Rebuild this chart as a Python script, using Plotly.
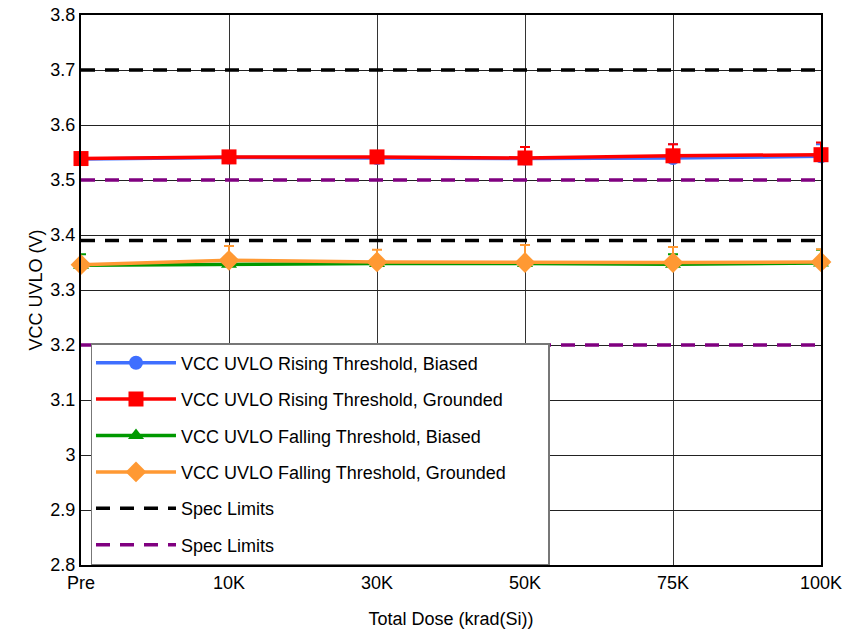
import plotly.graph_objects as go

categories = ["Pre", "10K", "30K", "50K", "75K", "100K"]

rising_biased = [3.538, 3.541, 3.540, 3.539, 3.540, 3.543]
rising_biased_err = [0.004, 0.004, 0.004, 0.010, 0.025, 0.022]
rising_grounded = [3.539, 3.542, 3.542, 3.540, 3.544, 3.546]
rising_grounded_err = [0.004, 0.004, 0.004, 0.020, 0.021, 0.022]
falling_biased = [3.345, 3.347, 3.348, 3.348, 3.347, 3.349]
falling_biased_err = [0.020, 0.004, 0.004, 0.004, 0.018, 0.024]
falling_grounded = [3.346, 3.354, 3.351, 3.350, 3.350, 3.351]
falling_grounded_err = [0.004, 0.026, 0.022, 0.032, 0.028, 0.023]

spec_black = [3.7, 3.39]
spec_purple = [3.5, 3.2]

font = "Liberation Sans, Arial, sans-serif"
fig = go.Figure()

def spec_trace(levels, color, group):
    xs, ys = [], []
    for lv in levels:
        xs += [categories[0], categories[-1], None]
        ys += [lv, lv, None]
    return go.Scatter(x=xs, y=ys, mode="lines", name="Spec Limits",
                      line=dict(color=color, width=3.5, dash="14px,10px"),
                      connectgaps=False, legendgroup=group)

fig.add_trace(spec_trace(spec_black, "black", "g5"))
fig.add_trace(spec_trace(spec_purple, "#800080", "g6"))

series = [
    ("VCC UVLO Rising Threshold, Biased", rising_biased, rising_biased_err, "#3f6fff", "circle", 14),
    ("VCC UVLO Rising Threshold, Grounded", rising_grounded, rising_grounded_err, "#ff0000", "square", 15),
    ("VCC UVLO Falling Threshold, Biased", falling_biased, falling_biased_err, "#009900", "triangle-up", 14),
    ("VCC UVLO Falling Threshold, Grounded", falling_grounded, falling_grounded_err, "#ff9933", "diamond", 16),
]
for k, (name, vals, err, color, sym, msize) in enumerate(series):
    fig.add_trace(go.Scatter(
        x=categories, y=vals, mode="lines+markers", name=name,
        line=dict(color=color, width=3.5),
        marker=dict(color=color, symbol=sym, size=msize),
        error_y=dict(type="data", array=err, arrayminus=[0] * len(err), symmetric=False,
                     visible=True, color=color, thickness=2, width=5),
        cliponaxis=False, legendgroup="g%d" % (k + 1),
    ))

for i, tr in enumerate(fig.data):
    tr.legendrank = 100 + i if tr.name == "Spec Limits" else i

fig.update_layout(
    width=843, height=632,
    margin=dict(l=81, r=22, t=15, b=67),
    paper_bgcolor="white", plot_bgcolor="white",
    font=dict(family=font, size=18, color="black"),
    showlegend=True,
    legend=dict(x=0.0135, y=0.4036, xanchor="left", yanchor="top",
                orientation="h", entrywidth=362, entrywidthmode="pixels",
                bgcolor="white", bordercolor="#777777", borderwidth=1.5,
                font=dict(size=18, family=font), tracegroupgap=10,
                itemwidth=80),
    xaxis=dict(type="category", categoryorder="array", categoryarray=categories,
               range=[0, 5], showgrid=True, gridcolor="#333333", gridwidth=1,
               showline=True, linecolor="black", linewidth=2, mirror=True,
               ticks="", tickfont=dict(size=18), automargin=False,
               ticklabeloverflow="allow",
               title=dict(text="Total Dose (krad(Si))", font=dict(size=18), standoff=21)),
    yaxis=dict(range=[2.8, 3.8], dtick=0.1, tick0=2.8, showgrid=True,
               gridcolor="#222222", gridwidth=1,
               showline=True, linecolor="black", linewidth=2, mirror=True,
               ticks="", tickfont=dict(size=18), tickformat="~g", automargin=False,
               ticklabeloverflow="allow",
               title=dict(text="VCC UVLO (V)", font=dict(size=18), standoff=3),
               zeroline=False),
)

fig.write_html("out.html", config={"displayModeBar": False},
               post_script="document.body.style.margin='0';document.body.style.overflow='hidden';")
